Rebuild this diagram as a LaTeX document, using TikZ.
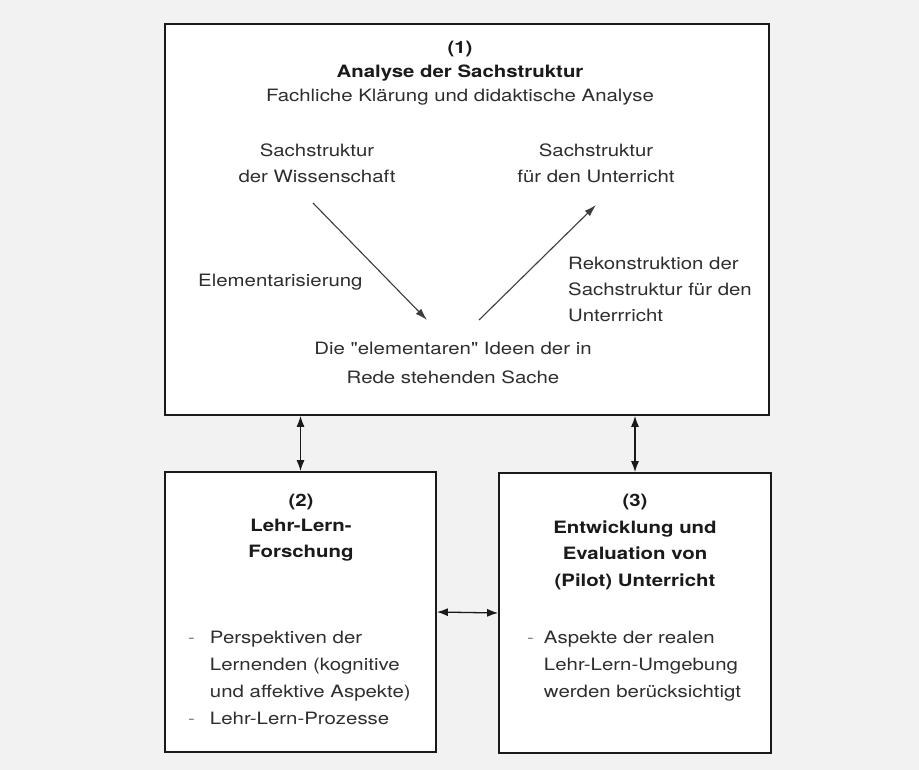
\documentclass[tikz,border=0pt]{standalone}
\usepackage{fontspec}
\defaultfontfeatures[\rmfamily,\sffamily]{}
\setmainfont{TeX Gyre Heros}[FakeStretch=1.2]
\usetikzlibrary{arrows.meta}
\definecolor{ink}{HTML}{1A1A1A}
\definecolor{soft}{HTML}{2E2E2E}
\definecolor{paper}{HTML}{F2F2F2}
\begin{document}
\begin{tikzpicture}[x=1pt,y=-1pt,
  box/.style={draw=ink, line width=1.7pt, fill=white, inner sep=0pt},
  txt/.style={text=soft, inner sep=0pt, font=\fontsize{17}{26}\selectfont},
  flow/.style={draw=ink!85, line width=1.1pt, -{Latex[length=12pt,width=7.5pt]}},
  both/.style={draw=ink, line width=1.3pt, {Latex[length=11pt,width=8pt]}-{Latex[length=11pt,width=8pt]}}]
  % page area
  \fill[paper] (0,0) rectangle (919,770);
  \useasboundingbox (0,0) rectangle (919,770);

  % the three blocks
  \node[box, minimum width=604pt, minimum height=391pt] (top) at (467,219.5) {};
  \node[box, minimum width=271pt, minimum height=280pt] (lern) at (300.5,612) {};
  \node[box, minimum width=272pt, minimum height=280pt] (unt) at (635,613) {};

  % block (1)
  \node[txt, align=center, font=\fontsize{17}{24}\selectfont] (t1) at (460,73)
    {\textcolor{ink}{\textbf{(1)}}\\\textcolor{ink}{\textbf{Analyse der Sachstruktur}}\\Fachliche Klärung und didaktische Analyse};
  \node[txt, align=center] (wiss) at (317,163.5) {Sachstruktur\\der Wissenschaft};
  \node[txt, align=center] (unterr) at (596,163.5) {Sachstruktur\\für den Unterricht};
  \node[txt, anchor=west] (elem) at (198,282) {Elementarisierung};
  \node[txt, anchor=west, align=left] (rek) at (568,289)
    {Rekonstruktion der\\Sachstruktur für den\\Unterrricht};
  \node[txt, align=center, font=\fontsize{17}{29}\selectfont] (ideen) at (453,362.5)
    {Die "elementaren" Ideen der in\\Rede stehenden Sache};

  \coordinate (a1) at (313,203);
  \coordinate (a2) at (427,320);
  \coordinate (b1) at (479,320);
  \coordinate (b2) at (596,205);
  \draw[flow] (a1) -- (a2);
  \draw[flow] (b1) -- (b2);

  % block (2)
  \node[txt, text=ink, align=center, font=\bfseries\fontsize{17}{25.5}\selectfont] (t2) at (301,527.5)
    {(2)\\Lehr-Lern-\\Forschung};
  \node[txt, anchor=west, font=\fontsize{17}{27}\selectfont] (l2) at (188,679)
    {\begin{tabular}{@{}l@{\hspace{15pt}}l@{}}
      \textcolor{gray}{-} & Perspektiven der\\
        & Lernenden (kognitive\\
        & und affektive Aspekte)\\
      \textcolor{gray}{-} & Lehr-Lern-Prozesse
    \end{tabular}};

  % block (3)
  \node[txt, text=ink, align=center, font=\bfseries\fontsize{17}{26.7}\selectfont] (t3) at (635,542)
    {(3)\\Entwicklung und\\Evaluation von\\(Pilot) Unterricht};
  \node[txt, anchor=west, font=\fontsize{17}{27}\selectfont] (l3) at (527,665.5)
    {\begin{tabular}{@{}l@{\hspace{10pt}}l@{}}
      \textcolor{gray}{-} & Aspekte der realen\\
        & Lehr-Lern-Umgebung\\
        & werden berücksichtigt
    \end{tabular}};

  % exchanges between the blocks
  \draw[both] (top.south -| lern.north) -- (lern.north);
  \draw[both] (top.south -| unt.north) -- (unt.north);
  \draw[both] (lern.east) -- (unt.west);
\end{tikzpicture}
\end{document}
